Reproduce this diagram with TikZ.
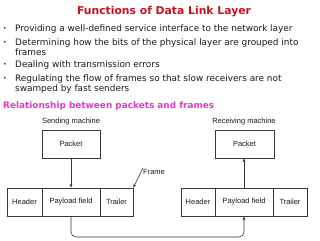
\documentclass[tikz,border=0pt]{standalone}
\usepackage{fontspec}
\setmainfont{DejaVu Sans}
\newfontfamily\diafont{Liberation Sans}
\usetikzlibrary{arrows.meta,calc}
\definecolor{titlered}{RGB}{200,16,30}
\definecolor{relmag}{RGB}{228,52,205}
\definecolor{bodytxt}{RGB}{25,25,25}
\definecolor{dialine}{RGB}{55,55,55}
\begin{document}
\begin{tikzpicture}[x=1pt,y=-1pt,
  title/.style={anchor=base,inner sep=0pt,text=titlered,font=\fontsize{10.8}{12}\selectfont\bfseries},
  bodyline/.style={anchor=base west,inner sep=0pt,text=bodytxt,font=\fontsize{8.9}{10}\selectfont},
  bulletdot/.style={anchor=base,inner sep=0pt,text=bodytxt,font=\fontsize{6}{7}\selectfont},
  reltitle/.style={anchor=base west,inner sep=0pt,text=relmag,font=\fontsize{8.9}{10}\selectfont\bfseries},
  dialabel/.style={inner sep=0pt,text=bodytxt,font=\diafont\fontsize{7.5}{8}\selectfont},
  fbox/.style={draw=dialine,line width=0.6pt,minimum height=28pt,inner sep=0pt,text=bodytxt,font=\diafont\fontsize{7.5}{8}\selectfont},
  conn/.style={draw=dialine,line width=0.6pt},
  tip/.style={-{Stealth[length=4pt,width=3pt]}}
]
\useasboundingbox (0,0) rectangle (320,240);
% title and bullets
\node[title] (ttl) at (164,15) {Functions of Data Link Layer};
\node[bulletdot] (b1) at (5,30.5) {•};
\node[bodyline] (l1) at (15,31.5) {Providing a well-defined service interface to the network layer};
\node[bulletdot] (b2) at (5,44.5) {•};
\node[bodyline] (l2) at (15,45.5) {Determining how the bits of the physical layer are grouped into};
\node[bodyline] (l2b) at (15,55.5) {frames};
\node[bulletdot] (b3) at (5,67) {•};
\node[bodyline] (l3) at (15,68) {Dealing with transmission errors};
\node[bulletdot] (b4) at (5,80.5) {•};
\node[bodyline] (l4) at (15,81.5) {Regulating the flow of frames so that slow receivers are not};
\node[bodyline] (l4b) at (15,91.5) {swamped by fast senders};
\node[reltitle] (rel) at (3,108.5) {Relationship between packets and frames};
% sending side
\node[dialabel] (sm) at (71,122) {Sending machine};
\node[fbox,minimum width=58pt] (spkt) at (71,144) {Packet};
\node[fbox,minimum width=35pt] (hdr) at (24.5,202) {Header};
\node[fbox,minimum width=58pt] (pay) at (71,202) {Payload field};
\node[fbox,minimum width=33pt] (trl) at (116.5,202) {Trailer};
% receiving side
\node[dialabel] (rm) at (244,122) {Receiving machine};
\node[fbox,minimum width=59pt] (rpkt) at (244.5,144) {Packet};
\node[fbox,minimum width=34pt] (hdr2) at (198,202) {Header};
\node[fbox,minimum width=58pt] (pay2) at (244,202) {Payload field};
\node[fbox,minimum width=34pt] (trl2) at (290,202) {Trailer};
% frame label
\node[dialabel,anchor=west] (flab) at (143,171.5) {Frame};
% connectors
\draw[conn,tip] (spkt.south -| pay.north) -- (pay.north);
\draw[conn,tip] (pay2.north) -- (rpkt.south -| pay2.north);
\coordinate (low) at (0,237);
\draw[conn,tip,rounded corners=5pt] (pay.south) -- (pay.south |- low) -- (pay2.south |- low) -- (pay2.south);
\draw[conn,tip] ([yshift=3.5pt]flab.west) -- (trl.north east);
\end{tikzpicture}
\end{document}
